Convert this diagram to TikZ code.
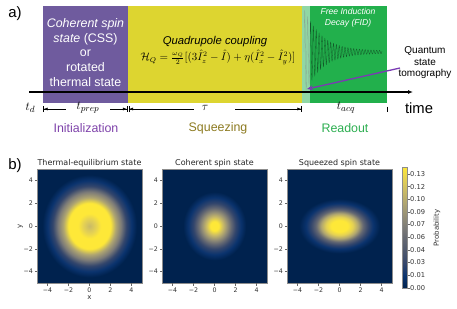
\documentclass[tikz,border=0pt]{standalone}
\usepackage{fontspec}
\setmainfont{Liberation Sans}
\newfontfamily\dejavu{DejaVu Sans}
\usetikzlibrary{arrows.meta}
\definecolor{cv0}{RGB}{0,34,78}
\definecolor{cv1}{RGB}{10,51,110}
\definecolor{cv2}{RGB}{52,70,108}
\definecolor{cv3}{RGB}{77,87,109}
\definecolor{cv4}{RGB}{99,103,114}
\definecolor{cv5}{RGB}{124,123,120}
\definecolor{cv6}{RGB}{150,144,118}
\definecolor{cv7}{RGB}{175,165,113}
\definecolor{cv8}{RGB}{201,186,103}
\definecolor{cv9}{RGB}{228,209,84}
\definecolor{cv10}{RGB}{254,232,56}
\definecolor{purpbox}{RGB}{111,91,158}
\definecolor{yelbox}{RGB}{221,213,48}
\definecolor{grnbox}{RGB}{34,176,76}
\definecolor{initc}{RGB}{126,66,170}
\definecolor{squc}{RGB}{140,122,32}
\definecolor{readc}{RGB}{44,174,80}
\definecolor{arrpurp}{RGB}{122,58,180}
\definecolor{fidc}{RGB}{18,88,40}
\pgfdeclareradialshading{thermsh}{\pgfpoint{0bp}{0bp}}{color(0bp)=(cv8); color(3bp)=(cv9); color(5.5bp)=(cv10); color(10bp)=(cv10); color(12.5bp)=(cv7); color(15bp)=(cv5); color(17.5bp)=(cv2); color(20bp)=(cv1); color(22.5bp)=(cv0); color(50bp)=(cv0)}
\pgfdeclareradialshading{cohsh}{\pgfpoint{0bp}{0bp}}{color(0bp)=(cv10); color(2bp)=(cv10); color(4bp)=(cv8); color(6bp)=(cv6); color(8bp)=(cv4); color(10bp)=(cv2); color(12.5bp)=(cv1); color(15bp)=(cv0); color(50bp)=(cv0)}
\pgfdeclareradialshading{sqzsh}{\pgfpoint{0bp}{0bp}}{color(0bp)=(cv10); color(2.5bp)=(cv10); color(4bp)=(cv9); color(5.5bp)=(cv7); color(7bp)=(cv4); color(8.5bp)=(cv2); color(10bp)=(cv1); color(12bp)=(cv0); color(50bp)=(cv0)}
\pgfdeclareverticalshading{cbarsh}{100bp}{color(0bp)=(cv0); color(25bp)=(cv0); color(30bp)=(cv1); color(35bp)=(cv2); color(40bp)=(cv3); color(45bp)=(cv4); color(50bp)=(cv5); color(55bp)=(cv6); color(60bp)=(cv7); color(65bp)=(cv8); color(70bp)=(cv9); color(75bp)=(cv10); color(100bp)=(cv10)}
\begin{document}
\begin{tikzpicture}[x=1pt,y=-1pt,
  boxtxt/.style={inner sep=0pt, align=center},
  lab/.style={inner sep=0pt},
  dimline/.style={line width=0.6pt},
  tickmk/.style={draw=black!60, line width=0.4pt},
  ticklab/.style={inner sep=0pt, font=\dejavu\fontsize{6.3}{7}\selectfont, text=black!80},
  ttl/.style={inner sep=0pt, font=\dejavu\fontsize{8}{9}\selectfont, text=black!85},
  axfr/.style={draw=black!45, line width=0.5pt}]
\useasboundingbox (0,0) rectangle (457,308);
% ---------- part a ----------
\node[lab, font=\fontsize{15}{16}\selectfont] (alab) at (15,14) {a)};
\fill[purpbox] (43,6) rectangle (128,103);
\fill[yelbox] (128,6) rectangle (302,103);
\fill[grnbox] (302,6) rectangle (387,103);
\draw[fidc, line width=0.3pt] plot[domain=304:382, samples=600] (\x, {52 - (40*exp(-(\x-305)/17)+1.2)*sin(125*(\x-304))});
\fill[white, opacity=0.5] (302,3) rectangle (310,103);
\node[boxtxt, text=white, font=\fontsize{12.4}{14.8}\selectfont] (css) at (85.5,52.5)
  {\itshape Coherent spin\\{\itshape state} (CSS)\\or\\rotated\\thermal state};
\node[boxtxt, font=\fontsize{11.3}{13}\selectfont\itshape] (qc) at (215,42) {Quadrupole coupling};
\node[boxtxt, font=\fontsize{10.5}{12}\selectfont] (ham) at (218,57.5)
  {$\mathcal{H}_Q=\frac{\omega_Q}{2}[(3\hat{I}_z^2-\hat{I})+\eta(\hat{I}_x^2-\hat{I}_y^2)]$};
\node[boxtxt, text=white, font=\fontsize{8.6}{11}\selectfont\itshape] (fid) at (348,17.5) {Free Induction\\Decay (FID)};
\coordinate (t0) at (29,92);
\coordinate (t1) at (413,92);
\draw[line width=1.1pt, -{Latex[length=5pt,width=4pt]}] (t0) -- (t1);
\node[boxtxt, font=\fontsize{10}{11.5}\selectfont] (qst) at (425,63) {Quantum\\state\\tomography};
\coordinate (qa) at (400,68);
\coordinate (qb) at (307,89);
\draw[arrpurp, line width=1.3pt, -{Stealth[length=6pt,width=5pt]}] (qa) -- (qb);
% dimension row
\node[lab, font=\fontsize{13}{14}\selectfont] (td) at (30.5,108) {$t_d$};
\node[lab, font=\fontsize{13}{14}\selectfont] (tprep) at (88,108) {$t_{prep}$};
\node[lab, font=\fontsize{13}{14}\selectfont] (tau) at (205,108) {$\tau$};
\node[lab, font=\fontsize{13}{14}\selectfont] (tacq) at (346,108) {$t_{acq}$};
\node[lab, font=\fontsize{14.8}{16}\selectfont] (time) at (419,108) {time};
\coordinate (d1a) at (43,109); \coordinate (d1b) at (66,109);
\coordinate (d2a) at (110,109); \coordinate (d2b) at (127.5,109);
\coordinate (d3a) at (128.5,109); \coordinate (d3b) at (194,109);
\coordinate (d4a) at (235,109); \coordinate (d4b) at (302,109);
\coordinate (d5a) at (387,106.5); \coordinate (d5b) at (387,112);
\draw[dimline, {Bar[width=6pt]Latex[length=4pt,width=3pt]}-] (d1a) -- (d1b);
\draw[dimline, -{Latex[length=4pt,width=3pt]Bar[width=6pt]}] (d2a) -- (d2b);
\draw[dimline, {Bar[width=6pt]Latex[length=4pt,width=3pt]}-] (d3a) -- (d3b);
\draw[dimline, -{Latex[length=4pt,width=3pt]Bar[width=6pt]}] (d4a) -- (d4b);
\draw[dimline] (d5a) -- (d5b);
\node[lab, text=initc, font=\fontsize{12.4}{14}\selectfont] (init) at (86,128) {Initialization};
\node[lab, text=squc, font=\fontsize{12.4}{14}\selectfont] (squ) at (218,128) {Squeezing};
\node[lab, text=readc, font=\fontsize{12.4}{14}\selectfont] (read) at (345,128) {Readout};
% ---------- part b ----------
\node[lab, font=\fontsize{15}{16}\selectfont] (blab) at (15,166) {b)};
% panel 1 thermal
\fill[cv0] (37,169) rectangle (142,283);
\begin{scope}
\clip (37,169) rectangle (142,283);
\shade[shading=thermsh] (37,169) rectangle (142,283);
\end{scope}
% panel 2 coherent
\fill[cv0] (162,169) rectangle (267,283);
\begin{scope}
\clip (162,169) rectangle (267,283);
\shade[shading=cohsh] (162,169) rectangle (267,283);
\end{scope}
% panel 3 squeezed
\fill[cv0] (287,169) rectangle (392,283);
\begin{scope}
\clip (287,169) rectangle (392,283);
\shade[shading=sqzsh] (255.5,169) rectangle (423.5,283);
\end{scope}
\foreach \p/\L/\T in {1/37/Thermal-equilibrium state, 2/162/Coherent spin state, 3/287/Squeezed spin state} {
  \pgfmathsetmacro\C{\L+52.5}
  \draw[axfr] (\L,169) rectangle ({\L+105},283);
  \node[ttl] (ttl\p) at (\C,163.5) {\T};
  \foreach \v/\t [count=\i] in {-4/−4,-2/−2,0/0,2/2,4/4} {
    \draw[tickmk] ({\C+(\v)*10.5},283) -- ({\C+(\v)*10.5},285.5);
    \node[ticklab, anchor=north] (xt\p\i) at ({\C+(\v)*10.5},287.5) {\t};
    \draw[tickmk] (\L,{226-(\v)*11.4}) -- ({\L-2.5},{226-(\v)*11.4});
    \node[ticklab, anchor=east] (yt\p\i) at ({\L-3.8},{226-(\v)*11.4}) {\t};
  }
}
\node[ticklab, font=\dejavu\fontsize{7}{8}\selectfont] (xlab) at (89.5,298) {x};
\node[ticklab, font=\dejavu\fontsize{7}{8}\selectfont, rotate=90] (ylab) at (20.5,226) {y};
% colorbar
\shade[shading=cbarsh] (402,167) rectangle (407.5,288);
\draw[axfr] (402,167) rectangle (407.5,288);
\foreach \t [count=\i from 0] in {0.00,0.01,0.03,0.04,0.06,0.07,0.09,0.10,0.12,0.13} {
  \draw[tickmk] (407.5,{287.7-\i*12.63}) -- (409.5,{287.7-\i*12.63});
  \node[ticklab, anchor=west, font=\dejavu\fontsize{6.7}{7}\selectfont] (cb\i) at (410,{287.7-\i*12.63}) {\t};
}
\node[ticklab, rotate=90, font=\dejavu\fontsize{7}{8}\selectfont] (prob) at (437,228) {Probability};
\end{tikzpicture}
\end{document}
